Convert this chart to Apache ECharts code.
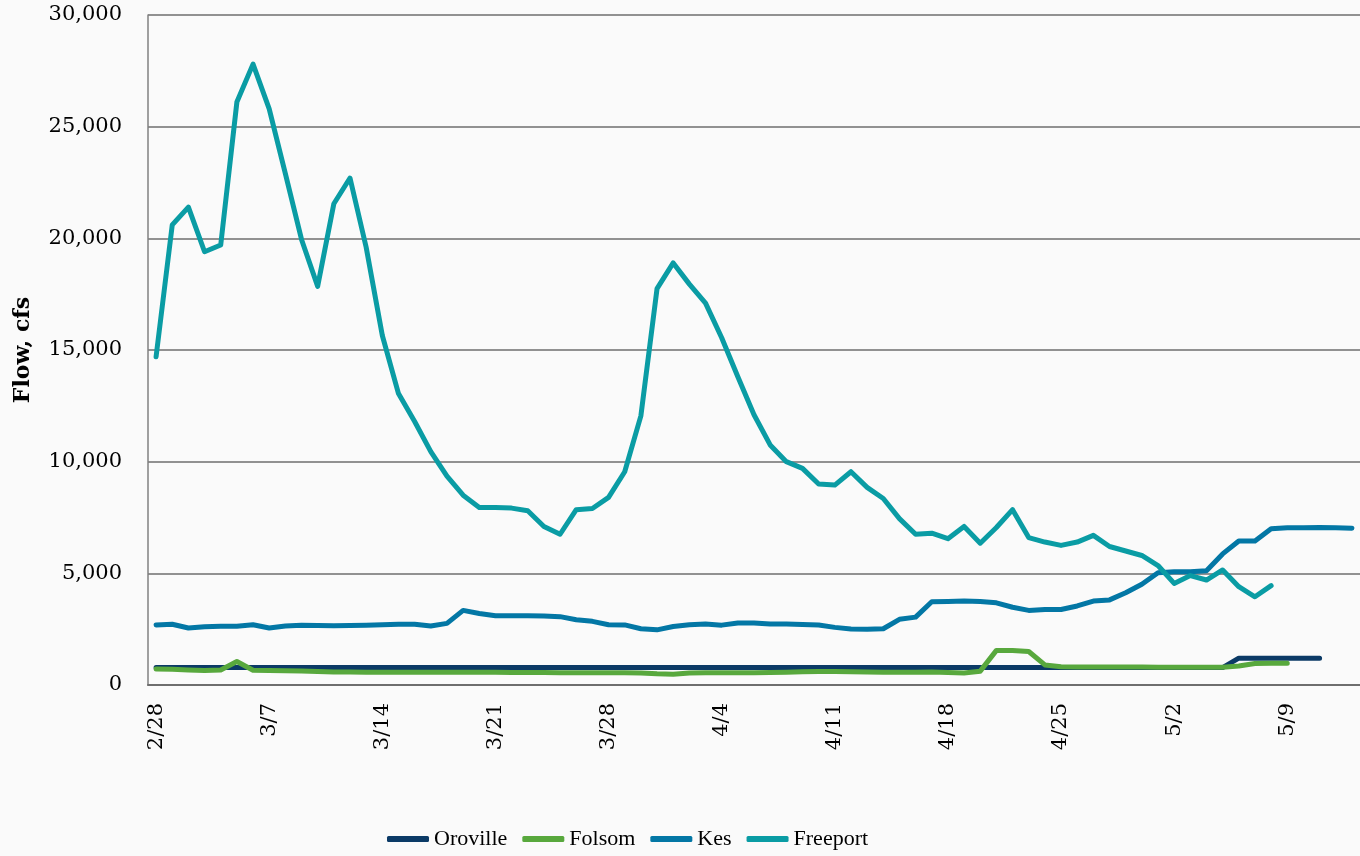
<!DOCTYPE html>
<html>
<head>
<meta charset="utf-8">
<title>Flow, cfs</title>
<script src="https://cdn.jsdelivr.net/npm/echarts@6.0.0/dist/echarts.min.js"></script>
<style>
  html, body { margin: 0; padding: 0; background: #fafafa; }
  #chart { width: 1360px; height: 856px; }
</style>
</head>
<body>
<div id="chart"></div>
<script>
// dates on the x axis (2/28 .. 5/13)
var dates = [
  "2/28",
  "3/1", "3/2", "3/3", "3/4", "3/5", "3/6", "3/7", "3/8", "3/9", "3/10",
  "3/11", "3/12", "3/13", "3/14", "3/15", "3/16", "3/17", "3/18", "3/19", "3/20",
  "3/21", "3/22", "3/23", "3/24", "3/25", "3/26", "3/27", "3/28", "3/29", "3/30", "3/31",
  "4/1", "4/2", "4/3", "4/4", "4/5", "4/6", "4/7", "4/8", "4/9", "4/10",
  "4/11", "4/12", "4/13", "4/14", "4/15", "4/16", "4/17", "4/18", "4/19", "4/20",
  "4/21", "4/22", "4/23", "4/24", "4/25", "4/26", "4/27", "4/28", "4/29", "4/30",
  "5/1", "5/2", "5/3", "5/4", "5/5", "5/6", "5/7", "5/8", "5/9", "5/10",
  "5/11", "5/12", "5/13"
];

// y axis ticks
var yMin = 0;
var yMax = 30000;
var yStep = 5000;

// flows, cfs
var oroville = [
  780, 780, 780, 780, 780, 780, 780, 780, 780, 780,
  780, 780, 780, 780, 780, 780, 780, 780, 780, 780,
  780, 780, 780, 780, 780, 780, 780, 780, 780, 780,
  780, 780, 780, 780, 780, 780, 780, 780, 780, 780,
  780, 780, 780, 780, 780, 780, 780, 780, 780, 780,
  780, 780, 780, 780, 780, 780, 780, 780, 780, 780,
  780, 780, 780, 780, 780, 780, 780, 1200, 1200, 1200,
  1200, 1200, 1200
];
var folsom = [
  720, 700, 670, 650, 670, 1050, 660, 650, 640, 630,
  600, 580, 580, 570, 570, 570, 570, 570, 570, 570,
  570, 570, 560, 560, 560, 550, 550, 550, 550, 550,
  540, 500, 480, 540, 550, 550, 550, 550, 560, 570,
  590, 600, 600, 590, 580, 570, 570, 570, 580, 560,
  540, 620, 1550, 1550, 1500, 900, 820, 810, 810, 810,
  810, 810, 800, 800, 800, 800, 800, 850, 960, 970,
  970
];
var kes = [
  2690, 2720, 2550, 2610, 2630, 2630, 2700, 2550, 2640, 2680,
  2660, 2650, 2660, 2680, 2700, 2720, 2720, 2640, 2760, 3340,
  3200, 3100, 3100, 3100, 3090, 3060, 2920, 2850, 2700, 2690,
  2520, 2470, 2620, 2700, 2730, 2680, 2780, 2780, 2730, 2730,
  2710, 2690, 2580, 2510, 2500, 2520, 2940, 3040, 3730, 3740,
  3760, 3740, 3680, 3480, 3340, 3380, 3380, 3540, 3760, 3810,
  4130, 4510, 5030, 5070, 5070, 5120, 5870, 6450, 6450, 7000,
  7040, 7040, 7050, 7040, 7020
];
var freeport = [
  14700, 20600, 21400, 19400, 19700, 26100, 27800, 25800, 22900, 19950,
  17850, 21550, 22700, 19600, 15650, 13050, 11800, 10450, 9350, 8500,
  7950, 7950, 7920, 7800, 7100, 6750, 7850, 7900, 8400, 9550,
  12050, 17750, 18900, 17950, 17100, 15550, 13800, 12100, 10750, 10000,
  9700, 9000, 8950, 9550, 8850, 8350, 7450, 6750, 6800, 6550,
  7100, 6350, 7050, 7850, 6600, 6400, 6250, 6400, 6700, 6200,
  6000, 5800, 5350, 4550, 4900, 4700, 5150, 4400, 3950, 4450
];

var seriesNames = ["Oroville", "Folsom", "Kes", "Freeport"];
var seriesColors = ["#0b3a66", "#58a83d", "#0377a5", "#0a9ca4"];
var seriesData = [oroville, folsom, kes, freeport];

var serif = "'DejaVu Serif', 'Liberation Serif', serif";

function makeSeries(i) {
  return {
    name: seriesNames[i],
    type: "line",
    data: seriesData[i],
    showSymbol: false,
    symbol: "none",
    smooth: false,
    lineStyle: { width: 5, color: seriesColors[i], cap: "round", join: "round" },
    itemStyle: { color: seriesColors[i] },
    z: 2 + i
  };
}

var option = {
  backgroundColor: "#fafafa",
  animation: false,
  color: seriesColors,
  grid: {
    left: 148,
    top: 15,
    bottom: 171,
    width: 1220 // plot runs past the right edge of the picture
  },
  legend: {
    left: 382,
    top: 823,
    icon: "roundRect",
    itemWidth: 42,
    itemHeight: 6,
    itemGap: 15,
    textStyle: {
      fontFamily: "'Liberation Serif', serif",
      fontSize: 22,
      color: "#000"
    },
    data: seriesNames
  },
  xAxis: {
    type: "category",
    data: dates,
    boundaryGap: true,
    axisLine: { lineStyle: { color: "#6e6e6e", width: 2 } },
    axisTick: { show: false },
    axisLabel: {
      interval: 6,
      rotate: 90,
      margin: 18,
      fontFamily: serif,
      fontSize: 21,
      color: "#000"
    },
    splitLine: { show: false }
  },
  yAxis: {
    type: "value",
    min: yMin,
    max: yMax,
    interval: yStep,
    name: "Flow, cfs",
    nameLocation: "middle",
    nameGap: 114,
    nameTextStyle: {
      fontFamily: serif,
      fontSize: 22,
      fontWeight: "bold",
      color: "#000"
    },
    axisLine: { show: true, lineStyle: { color: "#808080", width: 1.5 } },
    axisTick: { show: false },
    axisLabel: {
      margin: 26,
      fontFamily: serif,
      fontSize: 21,
      color: "#000",
      formatter: function (v) {
        return v.toLocaleString("en-US");
      }
    },
    splitLine: { lineStyle: { color: "#6e6e6e", width: 1.5 } }
  },
  series: [makeSeries(0), makeSeries(1), makeSeries(2), makeSeries(3)]
};

var chart = echarts.init(document.getElementById("chart"), null, { renderer: "canvas" });
chart.setOption(option);
</script>
</body>
</html>
